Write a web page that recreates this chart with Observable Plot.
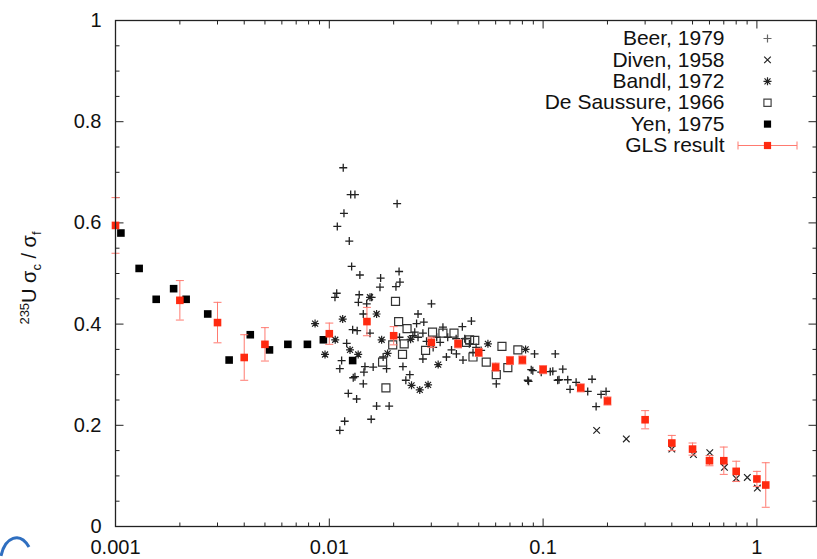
<!DOCTYPE html>
<html>
<head>
<meta charset="utf-8">
<script src="https://cdn.jsdelivr.net/npm/d3@7"></script>
<script src="https://cdn.jsdelivr.net/npm/@observablehq/plot@0.6"></script>
<style>
  html, body { margin: 0; padding: 0; background: #fff; }
  #chart { width: 817px; height: 559px; overflow: hidden; }
</style>
</head>
<body>
<div id="chart"></div>
<script>
// ---------------- data ----------------
const xTickValues = [0.001, 0.01, 0.1, 1];
const yTickValues = [0, 0.2, 0.4, 0.6, 0.8, 1];

// Beer, 1979  (+)
const beerPts = [
  [0.01162,0.709],[0.01259,0.656],[0.01318,0.656],[0.02076,0.638],[0.01171,0.619],[0.0109,0.593],
  [0.0124,0.564],[0.01272,0.514],[0.0139,0.497],[0.0212,0.504],[0.01738,0.491],[0.01726,0.473],
  [0.0214,0.483],[0.0205,0.474],[0.01083,0.461],[0.01063,0.453],[0.0138,0.458],[0.01577,0.453],
  [0.01496,0.440],[0.01442,0.420],[0.03005,0.440],[0.026,0.420],[0.02767,0.404],[0.0462,0.406],
  [0.01286,0.389],[0.0155,0.382],[0.01206,0.362],[0.01142,0.328],[0.0112,0.312],[0.01468,0.316],
  [0.01318,0.296],[0.01442,0.282],[0.01227,0.263],[0.01342,0.252],[0.01664,0.238],[0.01905,0.238],
  [0.01853,0.312],[0.01604,0.315],[0.01786,0.335],[0.0221,0.316],[0.0228,0.289],[0.0256,0.401],
  [0.0251,0.384],[0.0285,0.366],[0.0353,0.335],[0.0422,0.329],[0.047,0.344],[0.0373,0.349],
  [0.0419,0.395],[0.034,0.394],[0.0274,0.331],[0.0604,0.282],[0.0848,0.289],[0.0912,0.341],
  [0.114,0.341],[0.0895,0.308],[0.111,0.307],[0.117,0.289],[0.088,0.310],[0.108,0.306],
  [0.1236,0.311],[0.1187,0.290],[0.1304,0.290],[0.1427,0.285],[0.1337,0.271],[0.1617,0.267],
  [0.1694,0.291],[0.1867,0.261],[0.197,0.267],[0.177,0.237],[0.0855,0.287],[0.01294,0.294],
  [0.01452,0.305],[0.0238,0.300],[0.0135,0.387],[0.01368,0.443],[0.098,0.305],
  [0.0246,0.377],[0.0260,0.374],[0.0274,0.382],[0.0318,0.374],[0.0330,0.364],[0.0358,0.374],
  [0.0392,0.371],[0.0430,0.371],[0.0452,0.361],[0.0486,0.354],[0.0513,0.348],[0.0393,0.341],
  [0.0306,0.354],[0.0213,0.374],[0.0112,0.190],[0.0118,0.208],[0.0157,0.212]
];

// Diven, 1958  (x)
const divenPts = [
  [0.178,0.190],[0.245,0.173],[0.40,0.153],[0.505,0.142],[0.602,0.146],
  [0.705,0.117],[0.80,0.095],[0.902,0.097],[1.005,0.076]
];

// Bandl, 1972  (*)
const bandlPts = [
  [0.00858,0.401],[0.00955,0.340],[0.01066,0.369],[0.01155,0.410],[0.0125,0.349],[0.01365,0.340],
  [0.0155,0.453],[0.01664,0.420],[0.01757,0.369],[0.01873,0.342],[0.024,0.370],[0.02424,0.279],
  [0.02649,0.270],[0.02897,0.280],[0.0323,0.320],[0.0552,0.361],[0.0828,0.350]
];

// De Saussure, 1966  (open square)
const desaussurePts = [
  [0.0204,0.445],[0.0211,0.405],[0.0231,0.391],[0.0224,0.361],[0.0198,0.359],[0.022,0.340],
  [0.01775,0.325],[0.0184,0.274],[0.0282,0.348],[0.0304,0.384],[0.034,0.382],[0.0383,0.382],
  [0.0438,0.364],[0.0479,0.368],[0.0642,0.356],[0.0762,0.349],[0.0604,0.300],[0.0684,0.314],
  [0.0542,0.325],[0.047,0.335],[0.0453,0.369]
];

// Yen, 1975  (filled square)
const yenX = [0.00106,0.00129,0.00155,0.00187,0.00214,0.0027,0.0034,0.00427,0.00525,0.0064,0.0079,0.00938,0.01286];
const yenY = [0.580,0.510,0.449,0.470,0.449,0.420,0.329,0.379,0.349,0.360,0.360,0.369,0.328];

// GLS result (red squares with error bars)
const glsX   = [0.001,0.002,0.003,0.004,0.005,0.010,0.015,0.020,0.030,0.040,0.050,0.060,0.070,0.080,0.100,0.150,0.200,0.300,0.400,0.500,0.600,0.700,0.800,1.000,1.100];
const glsY   = [0.595,0.447,0.403,0.334,0.360,0.381,0.405,0.377,0.364,0.361,0.344,0.315,0.328,0.329,0.310,0.274,0.248,0.211,0.165,0.153,0.130,0.130,0.109,0.094,0.082];
const glsErr = [0.055,0.039,0.040,0.045,0.033,0.021,0.028,0.018,0.010,0.008,0.008,0.008,0.008,0.008,0.008,0.008,0.008,0.018,0.015,0.012,0.010,0.027,0.020,0.015,0.044];

const legendLabels = ["Beer, 1979", "Diven, 1958", "Bandl, 1972", "De Saussure, 1966", "Yen, 1975", "GLS result"];

// ---------------- helpers ----------------
const toObj = ([x, y]) => ({x, y});
const beer = beerPts.map(toObj);
const diven = divenPts.map(toObj);
const bandl = bandlPts.map(toObj);
const desaussure = desaussurePts.map(toObj);
const yen = yenX.map((x, i) => ({x, y: yenY[i]}));
const gls = glsX.map((x, i) => ({x, y: glsY[i], e: glsErr[i]}));

const xMinor = [];
for (const d of [0.001, 0.01, 0.1]) for (let k = 2; k <= 9; k++) xMinor.push(d * k);
const yMinor = d3.range(1, 20).map(k => k * 0.05).filter(v => Math.abs(v / 0.2 - Math.round(v / 0.2)) > 1e-6);

const sym = (f) => ({draw(ctx) { f(ctx); }});
const plusSym  = sym(c => { c.moveTo(-4, 0); c.lineTo(4, 0); c.moveTo(0, -4); c.lineTo(0, 4); });
const timesSym = sym(c => { c.moveTo(-3.3, -3.3); c.lineTo(3.3, 3.3); c.moveTo(-3.3, 3.3); c.lineTo(3.3, -3.3); });
const starSym  = sym(c => { c.moveTo(-3, -3); c.lineTo(3, 3); c.moveTo(-3, 3); c.lineTo(3, -3); c.moveTo(-4, 0); c.lineTo(4, 0); c.moveTo(0, -4); c.lineTo(0, 4); });
const sqSym = (s) => sym(c => { c.moveTo(-s, -s); c.lineTo(s, -s); c.lineTo(s, s); c.lineTo(-s, s); c.closePath(); });
const capSym   = sym(c => { c.moveTo(-4, 0); c.lineTo(4, 0); });
const legendErrSym = sym(c => { c.moveTo(-29.5, 0); c.lineTo(29.5, 0); c.moveTo(-29.5, -4); c.lineTo(-29.5, 4); c.moveTo(29.5, -4); c.lineTo(29.5, 4); });
const vUp   = (L) => sym(c => { c.moveTo(0, 0); c.lineTo(0, -L); });
const vDown = (L) => sym(c => { c.moveTo(0, 0); c.lineTo(0, L); });
const hRight = (L) => sym(c => { c.moveTo(0, 0); c.lineTo(L, 0); });
const hLeft  = (L) => sym(c => { c.moveTo(0, 0); c.lineTo(-L, 0); });

const red = "#ff2a10";
const redBar = "#ff7a70";
const ink = "#222";

// legend marks
const rowDy = i => 18 + i * 21.4;
const legendSymbols = [
  {symbol: plusSym, fill: "none", stroke: "#666", strokeWidth: 1.2},
  {symbol: timesSym, fill: "none", stroke: ink, strokeWidth: 1.2},
  {symbol: starSym, fill: "none", stroke: ink, strokeWidth: 1.2},
  {symbol: sqSym(3.6), fill: "none", stroke: "#444", strokeWidth: 1.2},
  {symbol: sqSym(3.6), fill: "#000", stroke: "none"},
  {symbol: sqSym(3.6), fill: red, stroke: "none"}
];
const legendMarks = [];
legendLabels.forEach((label, i) => {
  legendMarks.push(Plot.text([label], {text: d => d, frameAnchor: "top-right", dx: -92, dy: rowDy(i), textAnchor: "end", lineAnchor: "middle", fill: "#111", fontSize: 21}));
  if (i === 5) legendMarks.push(Plot.dot([label], {frameAnchor: "top-right", dx: -49, dy: rowDy(i), symbol: legendErrSym, fill: "none", stroke: redBar, strokeWidth: 1}));
  legendMarks.push(Plot.dot([label], {frameAnchor: "top-right", dx: -49, dy: rowDy(i), ...legendSymbols[i]}));
});

const chart = Plot.plot({
  width: 817,
  height: 559,
  marginLeft: 115,
  marginRight: 1,
  marginTop: 20,
  marginBottom: 33,
  style: {fontFamily: "'Liberation Sans', Arial, Helvetica, sans-serif", fontSize: "20px", background: "#fff", color: "#111"},
  x: {type: "log", domain: [0.001, 1.9], label: null},
  y: {domain: [0, 1], label: null},
  marks: [
    // tick marks (inward, mirrored)
    Plot.dot(xTickValues, {x: d => d, frameAnchor: "bottom", symbol: vUp(8), stroke: ink, strokeWidth: 1}),
    Plot.dot(xTickValues, {x: d => d, frameAnchor: "top", symbol: vDown(8), stroke: ink, strokeWidth: 1}),
    Plot.dot(xMinor, {x: d => d, frameAnchor: "bottom", symbol: vUp(4), stroke: ink, strokeWidth: 1}),
    Plot.dot(xMinor, {x: d => d, frameAnchor: "top", symbol: vDown(4), stroke: ink, strokeWidth: 1}),
    Plot.dot(yTickValues, {y: d => d, frameAnchor: "left", symbol: hRight(8), stroke: ink, strokeWidth: 1}),
    Plot.dot(yTickValues, {y: d => d, frameAnchor: "right", symbol: hLeft(8), stroke: ink, strokeWidth: 1}),
    Plot.dot(yMinor, {y: d => d, frameAnchor: "left", symbol: hRight(4), stroke: ink, strokeWidth: 1}),
    Plot.dot(yMinor, {y: d => d, frameAnchor: "right", symbol: hLeft(4), stroke: ink, strokeWidth: 1}),
    Plot.axisX({ticks: xTickValues, tickFormat: d => String(d), tickSize: 0, tickPadding: 13, label: null, fontSize: 20}),
    Plot.axisY({ticks: yTickValues, tickFormat: d => String(d), tickSize: 0, tickPadding: 14, label: null, fontSize: 20}),
    // data
    Plot.dot(beer, {x: "x", y: "y", symbol: plusSym, fill: "none", stroke: "#222", strokeWidth: 1.3}),
    Plot.dot(diven, {x: "x", y: "y", symbol: timesSym, fill: "none", stroke: ink, strokeWidth: 1.2}),
    Plot.dot(bandl, {x: "x", y: "y", symbol: starSym, fill: "none", stroke: ink, strokeWidth: 1.2}),
    Plot.dot(desaussure, {x: "x", y: "y", symbol: sqSym(4), fill: "none", stroke: "#333", strokeWidth: 1.2}),
    Plot.dot(yen, {x: "x", y: "y", symbol: sqSym(3.8), fill: "#000", stroke: "none"}),
    Plot.ruleX(gls, {x: "x", y1: d => d.y - d.e, y2: d => d.y + d.e, stroke: redBar, strokeWidth: 1}),
    Plot.dot(gls, {x: "x", y: d => d.y - d.e, symbol: capSym, fill: "none", stroke: redBar, strokeWidth: 1}),
    Plot.dot(gls, {x: "x", y: d => d.y + d.e, symbol: capSym, fill: "none", stroke: redBar, strokeWidth: 1}),
    Plot.dot(gls, {x: "x", y: "y", symbol: sqSym(3.8), fill: red, stroke: "none"}),
    ...legendMarks,
    Plot.frame({stroke: ink, strokeWidth: 1.3})
  ]
});

// y-axis title with super/subscripts
const svg = d3.select(chart);
const t = svg.append("text")
  .attr("transform", "translate(36,278) rotate(-90)")
  .attr("text-anchor", "middle")
  .attr("fill", "#111")
  .style("font-family", "'Liberation Sans', Arial, sans-serif")
  .style("font-size", "20px");
t.append("tspan").attr("font-size", "13px").attr("dy", "-7").text("235");
t.append("tspan").attr("dy", "7").text("U σ");
t.append("tspan").attr("font-size", "13px").attr("dy", "5").text("c");
t.append("tspan").attr("dy", "-5").text(" / σ");
t.append("tspan").attr("font-size", "13px").attr("dy", "5").text("f");

// partial logo arc in the lower-left corner
svg.append("path")
  .attr("d", "M1,556 C5,537 20,531 29,547")
  .attr("fill", "none")
  .attr("stroke", "#2f6fc0")
  .attr("stroke-width", 3);

document.getElementById("chart").appendChild(chart);
</script>
</body>
</html>
